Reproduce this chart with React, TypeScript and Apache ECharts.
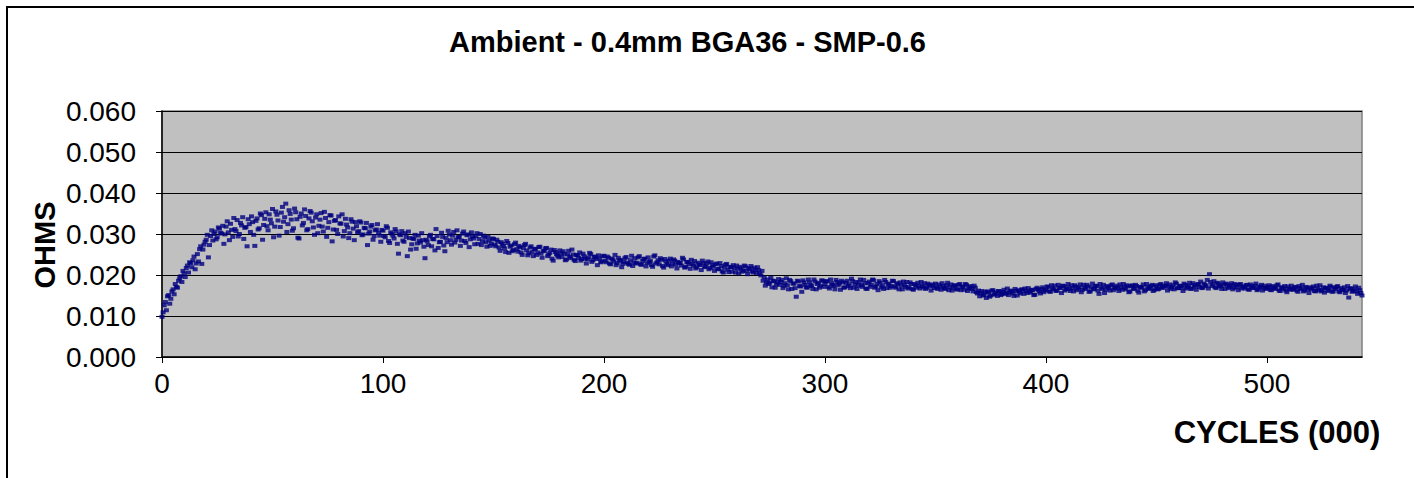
import React, { useEffect, useRef } from "react";
import * as echarts from "echarts";

// Chart texts
const TITLE = "Ambient - 0.4mm BGA36 - SMP-0.6";
const Y_NAME = "OHMS";
const X_NAME = "CYCLES (000)";

// Axis ranges (ohms / thousands of cycles)
const Y_MIN = 0;
const Y_MAX = 0.06;
const Y_STEP = 0.01;
const X_MIN = 0;
const X_MAX = 543;
const X_STEP = 100;

// Readings every thousand cycles (set A at whole thousands, set B half-way between); milli-ohms
const CYCLE_STEP = 1;
const HALF_OFFSET = 0.5;

const mOhmA_000_049 = [
  9.8, 12.6, 11.4, 15.1, 14.2, 16.5, 17.8, 16.9, 19.2, 18.3,
  20.4, 21.7, 20.6, 22.9, 23.6, 21.4, 25.1, 26.3, 22.7, 27.4,
  28.6, 24.3, 29.5, 28.4, 30.6, 29.2, 31.3, 30.1, 27.6, 31.8,
  30.4, 32.5, 29.3, 31.2, 33.4, 30.0, 32.1, 28.8, 31.7, 33.6,
  30.5, 32.9, 27.1, 33.8, 31.4, 34.6, 32.2, 35.3, 30.9, 33.5,
];
const mOhmA_050_099 = [
  36.1, 31.8, 34.7, 29.6, 35.2, 33.0, 37.4, 32.4, 34.9, 30.8,
  36.2, 33.6, 28.9, 35.0, 32.7, 34.4, 31.2, 35.6, 33.1, 29.8,
  34.8, 32.0, 35.1, 30.6, 33.9, 31.5, 34.6, 28.2, 33.2, 31.0,
  34.3, 32.5, 29.4, 33.7, 31.6, 30.2, 33.0, 28.5, 31.9, 30.7,
  32.8, 29.9, 31.4, 27.3, 30.6, 32.2, 29.5, 31.1, 30.3, 28.1,
];
const mOhmA_100_149 = [
  30.8, 29.2, 31.5, 27.8, 30.1, 28.9, 30.6, 25.2, 29.7, 28.4,
  30.2, 24.6, 29.0, 27.5, 28.8, 26.4, 29.6, 27.9, 28.5, 24.1,
  28.2, 29.4, 27.0, 28.7, 31.2, 26.6, 28.1, 29.3, 25.8, 28.0,
  29.9, 27.4, 30.5, 28.6, 29.2, 27.1, 30.1, 28.3, 29.7, 26.8,
  30.4, 28.9, 29.5, 27.6, 30.0, 28.2, 29.1, 26.9, 28.4, 27.7,
];
const mOhmA_150_199 = [
  28.8, 27.0, 28.1, 25.9, 27.6, 26.5, 28.3, 25.4, 27.2, 26.1,
  27.9, 25.7, 26.8, 24.9, 27.3, 26.0, 25.3, 27.0, 24.6, 26.4,
  25.5, 26.9, 24.2, 25.8, 26.6, 25.0, 26.2, 23.5, 25.6, 24.7,
  26.0, 24.4, 25.2, 23.8, 25.9, 24.1, 25.0, 23.4, 24.8, 25.5,
  23.9, 24.6, 22.8, 24.3, 25.1, 23.6, 24.5, 22.4, 24.0, 23.3,
];
const mOhmA_200_249 = [
  24.7, 23.1, 24.2, 22.6, 23.8, 24.9, 22.9, 23.5, 21.9, 23.2,
  24.4, 22.7, 23.6, 22.2, 24.1, 23.0, 24.6, 22.5, 23.9, 22.1,
  24.3, 23.4, 22.0, 24.8, 23.1, 22.6, 23.7, 21.8, 23.3, 22.4,
  24.0, 22.8, 23.5, 21.6, 23.0, 22.3, 23.8, 22.0, 23.2, 21.5,
  22.7, 23.4, 21.9, 22.6, 21.2, 22.9, 22.1, 23.3, 21.7, 22.4,
];
const mOhmA_250_299 = [
  21.0, 22.8, 21.5, 22.2, 20.6, 22.5, 21.3, 22.0, 20.8, 21.7,
  22.3, 20.4, 21.6, 21.1, 22.1, 20.2, 21.4, 20.9, 21.8, 20.5,
  21.2, 19.9, 18.6, 17.4, 18.9, 18.1, 17.0, 18.5, 17.7, 19.0,
  18.3, 16.8, 18.0, 17.5, 18.8, 16.6, 17.9, 14.7, 18.4, 17.2,
  18.7, 17.6, 16.9, 18.2, 17.3, 18.9, 16.5, 18.1, 17.4, 18.6,
];
const mOhmA_300_349 = [
  17.8, 18.5, 16.7, 18.0, 17.3, 18.8, 17.5, 16.4, 18.2, 17.0,
  18.6, 17.7, 19.1, 16.9, 18.3, 17.4, 18.9, 17.1, 18.0, 16.6,
  18.4, 17.6, 18.7, 17.2, 16.3, 18.1, 17.4, 18.8, 16.8, 17.9,
  17.3, 18.5, 16.9, 17.7, 18.2, 16.5, 17.6, 18.3, 17.0, 17.8,
  16.4, 17.5, 18.1, 16.7, 17.3, 18.0, 16.9, 17.6, 16.2, 17.4,
];
const mOhmA_350_399 = [
  17.9, 16.6, 17.2, 18.0, 16.8, 17.5, 16.3, 17.7, 16.9, 17.4,
  16.5, 17.8, 17.0, 16.4, 17.6, 16.7, 17.3, 16.0, 16.9, 15.5,
  14.8, 16.1, 15.2, 14.4, 15.7, 15.0, 16.3, 15.4, 14.9, 16.0,
  15.3, 16.4, 15.6, 15.1, 16.2, 15.5, 16.6, 15.0, 15.9, 16.5,
  15.4, 16.1, 16.8, 15.7, 16.3, 15.2, 16.9, 16.0, 16.6, 15.8,
];
const mOhmA_400_449 = [
  16.4, 17.1, 15.9, 16.7, 17.4, 16.2, 16.9, 15.6, 17.3, 16.5,
  17.8, 16.1, 16.8, 17.5, 16.3, 17.0, 15.8, 17.6, 16.6, 17.2,
  16.0, 17.9, 16.7, 17.3, 15.4, 16.9, 17.6, 16.4, 17.1, 16.2,
  17.7, 16.8, 17.4, 16.1, 17.0, 17.8, 16.5, 17.2, 16.0, 17.5,
  16.6, 17.3, 15.7, 17.0, 17.7, 16.3, 17.1, 16.8, 17.6, 16.4,
];
const mOhmA_450_499 = [
  17.2, 16.6, 17.8, 16.9, 17.4, 16.2, 17.7, 17.0, 16.5, 17.9,
  16.8, 17.3, 16.1, 17.6, 17.0, 18.1, 16.7, 17.5, 16.4, 17.8,
  18.4, 16.9, 17.6, 18.8, 20.2, 17.3, 18.5, 16.8, 17.9, 17.4,
  18.2, 16.6, 17.7, 17.1, 18.0, 16.9, 17.5, 16.3, 17.8, 17.2,
  16.7, 17.6, 16.4, 17.3, 16.8, 17.9, 16.5, 17.1, 16.2, 17.4,
];
const mOhmA_500_543 = [
  16.8, 17.5, 16.3, 17.0, 16.6, 17.7, 16.1, 16.9, 17.3, 15.8,
  16.7, 17.4, 16.4, 17.1, 15.9, 16.8, 17.6, 16.2, 16.9, 15.6,
  16.5, 17.2, 16.0, 16.7, 17.5, 16.3, 15.7, 16.9, 16.4, 17.1,
  16.0, 16.6, 17.3, 15.8, 16.5, 17.0, 16.2, 14.5, 16.8, 16.1,
  17.2, 15.4, 16.3, 15.0,
];

const mOhmB_000_049 = [
  10.9, 13.4, 14.8, 13.0, 16.0, 15.3, 17.1, 18.6, 19.7, 21.0,
  19.5, 22.3, 23.1, 21.9, 24.5, 22.8, 23.3, 27.0, 26.2, 28.1,
  29.8, 27.3, 30.9, 30.0, 28.7, 31.6, 30.3, 32.0, 29.9, 33.1,
  28.5, 31.0, 33.9, 30.7, 29.4, 32.7, 34.1, 31.5, 27.0, 32.4,
  34.3, 29.8, 33.2, 31.1, 35.0, 28.6, 33.7, 31.9, 34.8, 32.6,
];
const mOhmB_050_099 = [
  29.2, 35.5, 33.3, 31.7, 36.6, 34.1, 30.5, 35.8, 33.5, 31.4,
  35.3, 29.1, 34.2, 32.1, 36.0, 30.9, 33.8, 35.2, 31.6, 34.0,
  30.2, 33.5, 31.8, 35.4, 29.3, 32.9, 34.5, 31.1, 33.4, 30.0,
  32.6, 34.8, 30.7, 32.3, 29.0, 33.6, 31.3, 32.9, 30.4, 33.1,
  29.7, 31.5, 32.7, 30.1, 31.8, 28.6, 30.9, 32.4, 29.6, 31.0,
];
const mOhmB_100_149 = [
  29.5, 31.9, 28.3, 30.4, 29.6, 31.2, 27.6, 29.9, 30.7, 28.1,
  29.3, 30.6, 26.2, 28.9, 29.8, 27.7, 28.4, 30.2, 26.9, 28.6,
  27.3, 29.8, 28.8, 26.0, 29.5, 28.0, 30.3, 27.2, 29.0, 30.8,
  28.5, 29.6, 27.9, 30.9, 29.3, 28.4, 30.6, 27.8, 29.9, 28.7,
  29.4, 27.5, 30.2, 28.8, 27.3, 29.6, 28.0, 29.3, 27.1, 28.9,
];
const mOhmB_150_199 = [
  27.4, 28.6, 26.7, 28.0, 27.1, 25.6, 27.8, 26.9, 25.8, 27.5,
  26.3, 27.1, 25.5, 26.6, 27.6, 24.8, 26.7, 25.6, 26.3, 24.9,
  26.8, 25.2, 25.9, 26.5, 24.6, 25.4, 24.0, 26.1, 25.1, 24.3,
  25.3, 25.8, 23.6, 25.0, 24.5, 26.2, 23.7, 24.9, 24.2, 23.5,
  25.2, 24.0, 23.8, 25.4, 23.2, 24.4, 23.9, 24.8, 23.1, 24.6,
];
const mOhmB_200_249 = [
  23.5, 24.5, 22.8, 24.0, 23.3, 22.4, 24.2, 23.7, 22.7, 24.1,
  23.0, 22.5, 24.7, 23.1, 22.8, 24.3, 22.6, 23.4, 24.0, 22.9,
  23.2, 22.4, 24.5, 22.8, 23.6, 24.1, 22.2, 23.9, 22.7, 23.5,
  22.1, 23.8, 22.5, 23.2, 22.9, 24.2, 21.8, 23.1, 22.6, 23.7,
  22.3, 21.6, 23.0, 22.4, 23.5, 21.9, 22.8, 21.4, 23.1, 22.0,
];
const mOhmB_250_299 = [
  22.6, 21.4, 22.9, 20.9, 21.8, 22.7, 20.7, 21.9, 22.4, 20.6,
  21.5, 22.0, 20.8, 22.3, 21.0, 21.7, 22.2, 20.6, 21.3, 21.9,
  20.3, 21.0, 19.4, 18.2, 17.8, 19.3, 18.6, 16.9, 18.2, 17.6,
  18.8, 17.4, 19.2, 16.5, 18.5, 17.9, 16.8, 18.6, 17.3, 15.9,
  18.2, 17.0, 18.9, 17.5, 16.6, 18.4, 17.8, 16.9, 18.7, 17.1,
];
const mOhmB_300_349 = [
  18.4, 17.1, 18.9, 17.6, 16.5, 18.3, 17.9, 18.6, 16.9, 18.1,
  17.3, 16.8, 18.5, 17.7, 16.6, 18.2, 17.5, 18.8, 16.7, 18.0,
  17.1, 18.9, 16.9, 17.8, 18.5, 17.0, 16.6, 18.3, 17.7, 16.9,
  18.6, 17.2, 18.0, 16.5, 17.4, 18.4, 17.1, 16.7, 18.2, 16.6,
  17.8, 16.9, 17.3, 18.3, 17.0, 16.6, 17.9, 17.2, 17.7, 16.8,
];
const mOhmB_350_399 = [
  16.9, 17.7, 16.4, 17.3, 16.6, 18.1, 17.0, 16.2, 17.5, 16.5,
  17.6, 16.3, 17.2, 17.8, 16.1, 17.0, 16.6, 17.4, 15.8, 16.2,
  15.6, 15.0, 15.9, 16.0, 14.7, 16.2, 15.2, 15.8, 16.1, 15.1,
  15.9, 15.4, 16.7, 15.8, 16.0, 14.9, 16.1, 16.3, 15.5, 16.4,
  16.7, 15.6, 16.0, 16.4, 15.1, 16.6, 16.4, 15.5, 17.0, 16.2,
];
const mOhmB_400_449 = [
  17.2, 16.0, 17.5, 16.5, 16.1, 17.6, 16.8, 17.4, 16.2, 17.0,
  16.6, 17.5, 16.0, 17.2, 16.7, 17.7, 16.4, 16.9, 17.6, 15.9,
  17.0, 16.5, 17.4, 16.2, 17.8, 16.6, 15.6, 17.3, 16.8, 17.5,
  16.3, 17.0, 16.7, 17.7, 16.4, 16.9, 17.5, 15.8, 17.3, 16.7,
  17.6, 16.2, 17.1, 16.9, 16.0, 17.8, 16.6, 17.3, 16.1, 17.5,
];
const mOhmB_450_499 = [
  16.5, 17.6, 16.9, 17.3, 18.0, 17.1, 16.6, 17.5, 18.2, 16.8,
  17.4, 16.9, 17.9, 16.7, 17.4, 16.6, 18.0, 17.2, 17.7, 17.1,
  16.8, 17.9, 17.3, 16.7, 18.3, 17.7, 17.0, 18.1, 17.2, 16.6,
  17.6, 17.9, 16.8, 17.5, 16.5, 17.8, 17.0, 17.6, 16.7, 17.1,
  17.5, 16.5, 17.7, 16.9, 17.4, 16.3, 17.2, 17.6, 16.9, 16.6,
];
const mOhmB_500_543 = [
  17.1, 16.4, 17.3, 16.8, 17.5, 16.2, 17.0, 16.6, 16.2, 17.2,
  16.4, 16.6, 17.0, 16.2, 17.3, 16.6, 16.0, 17.1, 16.5, 17.0,
  16.8, 16.1, 17.4, 16.3, 16.0, 17.0, 16.8, 16.1, 17.4, 15.9,
  16.9, 17.1, 16.0, 16.8, 16.3, 15.6, 17.3, 16.6, 15.9, 16.5,
  16.0, 16.9, 15.6, 16.4,
];

const READINGS_A = [
  ...mOhmA_000_049, ...mOhmA_050_099, ...mOhmA_100_149, ...mOhmA_150_199,
  ...mOhmA_200_249, ...mOhmA_250_299, ...mOhmA_300_349, ...mOhmA_350_399,
  ...mOhmA_400_449, ...mOhmA_450_499, ...mOhmA_500_543,
];
const READINGS_B = [
  ...mOhmB_000_049, ...mOhmB_050_099, ...mOhmB_100_149, ...mOhmB_150_199,
  ...mOhmB_200_249, ...mOhmB_250_299, ...mOhmB_300_349, ...mOhmB_350_399,
  ...mOhmB_400_449, ...mOhmB_450_499, ...mOhmB_500_543,
];

const FONT = 'Arial, "Liberation Sans", sans-serif';

export default function App() {
  const ref = useRef<HTMLDivElement>(null);
  useEffect(() => {
    if (!ref.current) return;
    const chart = echarts.init(ref.current, undefined, { renderer: "svg" });
    const data = [
      ...READINGS_A.map((v, i) => [i * CYCLE_STEP, v / 1000]),
      ...READINGS_B.map((v, i) => [i * CYCLE_STEP + HALF_OFFSET, v / 1000]),
    ];
    chart.setOption({
      animation: false,
      title: {
        text: TITLE,
        left: 444,
        top: 22,
        textStyle: { fontFamily: FONT, fontSize: 29, fontWeight: "bold", color: "#000" },
      },
      grid: {
        left: 162,
        top: 111,
        width: 1200,
        height: 246,
        show: true,
        backgroundColor: "#C0C0C0",
        borderColor: "#808080",
        borderWidth: 1.5,
      },
      xAxis: {
        type: "value",
        min: X_MIN,
        max: X_MAX,
        interval: X_STEP,
        axisLine: { show: true, onZero: false, lineStyle: { color: "#000", width: 1.5 } },
        axisTick: { show: true, inside: false, length: 6, lineStyle: { color: "#000" } },
        axisLabel: {
          fontFamily: FONT,
          fontSize: 28,
          color: "#000",
          margin: 12,
          showMaxLabel: false,
        },
        splitLine: { show: false },
      },
      yAxis: {
        type: "value",
        min: Y_MIN,
        max: Y_MAX,
        interval: Y_STEP,
        axisLine: { show: true, lineStyle: { color: "#000", width: 1.5 } },
        axisTick: { show: true, inside: false, length: 6, lineStyle: { color: "#000" } },
        axisLabel: {
          fontFamily: FONT,
          fontSize: 28,
          color: "#000",
          margin: 26,
          formatter: (v: number) => v.toFixed(3),
        },
        splitLine: { show: true, lineStyle: { color: "#000", width: 1.2 } },
      },
      graphic: [
        {
          type: "text",
          x: 45,
          y: 245,
          rotation: Math.PI / 2,
          style: {
            text: Y_NAME,
            fontFamily: FONT,
            fontSize: 29,
            fontWeight: "bold",
            fill: "#000",
            align: "center",
            verticalAlign: "middle",
          },
        },
        {
          type: "text",
          x: 1277,
          y: 432,
          style: {
            text: X_NAME,
            fontFamily: FONT,
            fontSize: 31,
            fontWeight: "bold",
            fill: "#000",
            align: "center",
            verticalAlign: "middle",
          },
        },
      ],
      series: [
        {
          type: "scatter",
          data,
          symbol: "rect",
          symbolSize: [5, 4],
          itemStyle: { color: "#000080" },
          clip: true,
        },
      ],
    });
    return () => chart.dispose();
  }, []);
  return (
    <div
      style={{
        position: "absolute",
        left: 6,
        top: 6,
        width: 1408,
        height: 472,
        boxSizing: "border-box",
        borderTop: "2px solid #000",
        borderLeft: "2px solid #000",
        background: "#fff",
      }}
    >
      <div
        ref={ref}
        style={{ position: "absolute", left: -8, top: -8, width: 1414, height: 478 }}
      />
    </div>
  );
}
